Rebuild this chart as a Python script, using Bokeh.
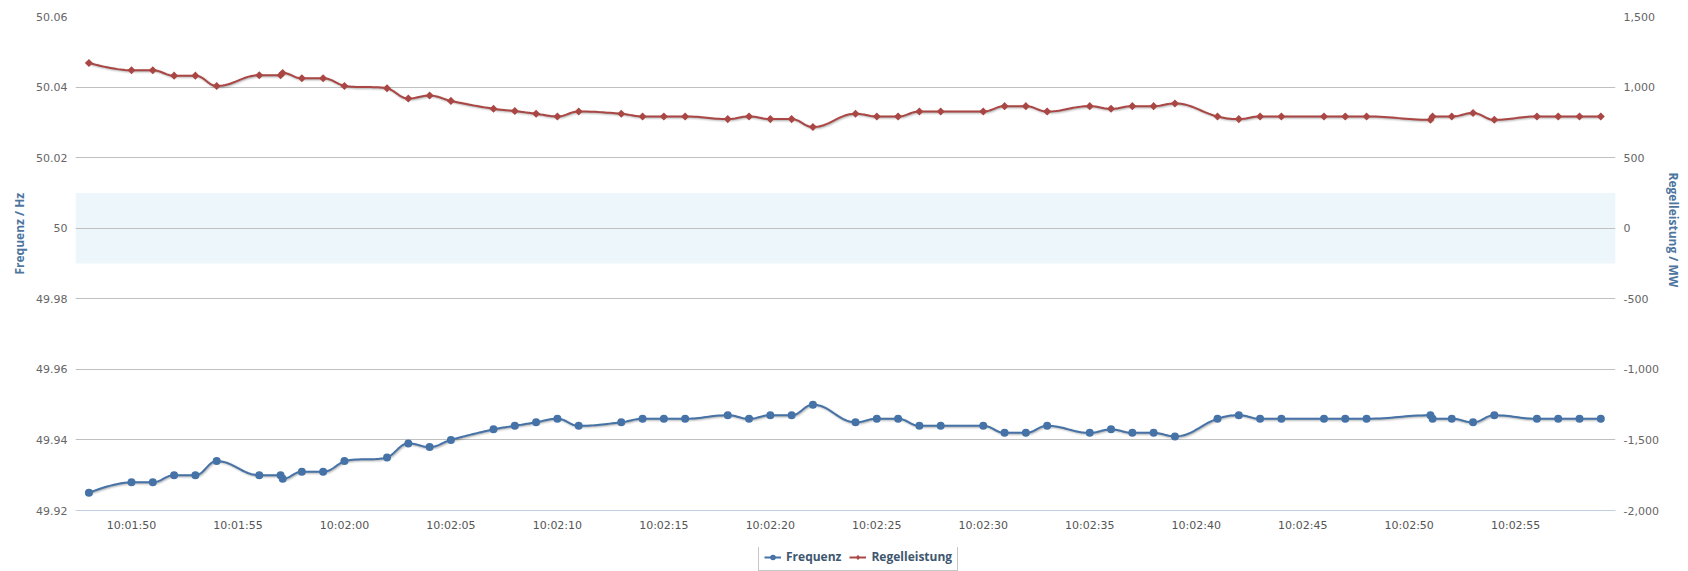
import numpy as np
import pandas as pd
from bokeh.plotting import figure
from bokeh.layouts import column
from bokeh.models import (Range1d, LinearAxis, FixedTicker, NumeralTickFormatter,
                          CustomJSTickFormatter, DatetimeTickFormatter, BoxAnnotation,
                          Legend, LegendItem, Title)
from bokeh.embed import file_html
from bokeh.resources import INLINE

# ---------------- data ----------------
day = "2014-03-01"
times = ["10:01:48", "10:01:50", "10:01:51", "10:01:52", "10:01:53", "10:01:54",
         "10:01:56", "10:01:57", "10:01:57.1", "10:01:58", "10:01:59", "10:02:00",
         "10:02:02", "10:02:03", "10:02:04", "10:02:05",
         "10:02:07", "10:02:08", "10:02:09", "10:02:10", "10:02:11",
         "10:02:13", "10:02:14", "10:02:15", "10:02:16",
         "10:02:18", "10:02:19", "10:02:20", "10:02:21", "10:02:22",
         "10:02:24", "10:02:25", "10:02:26", "10:02:27", "10:02:28",
         "10:02:30", "10:02:31", "10:02:32", "10:02:33",
         "10:02:35", "10:02:36", "10:02:37", "10:02:38", "10:02:39",
         "10:02:41", "10:02:42", "10:02:43", "10:02:44",
         "10:02:46", "10:02:47", "10:02:48",
         "10:02:51", "10:02:51.1", "10:02:52", "10:02:53", "10:02:54",
         "10:02:56", "10:02:57", "10:02:58", "10:02:59"]

frequenz = [49.925, 49.928, 49.928, 49.930, 49.930, 49.934,
            49.930, 49.930, 49.929, 49.931, 49.931, 49.934,
            49.935, 49.939, 49.938, 49.940,
            49.943, 49.944, 49.945, 49.946, 49.944,
            49.945, 49.946, 49.946, 49.946,
            49.947, 49.946, 49.947, 49.947, 49.950,
            49.945, 49.946, 49.946, 49.944, 49.944,
            49.944, 49.942, 49.942, 49.944,
            49.942, 49.943, 49.942, 49.942, 49.941,
            49.946, 49.947, 49.946, 49.946,
            49.946, 49.946, 49.946,
            49.947, 49.946, 49.946, 49.945, 49.947,
            49.946, 49.946, 49.946, 49.946]

regelleistung = [1171, 1119, 1119, 1081, 1081, 1008,
                 1084, 1084, 1100, 1062, 1062, 1008,
                 992, 919, 940, 902,
                 846, 830, 811, 792, 827,
                 811, 792, 792, 792,
                 773, 792, 773, 773, 717,
                 811, 792, 792, 827, 827,
                 827, 865, 865, 827,
                 865, 846, 865, 865, 884,
                 792, 773, 792, 792,
                 792, 792, 792,
                 768, 792, 792, 816, 768,
                 792, 792, 792, 792]

x_tick_labels = ["10:01:50", "10:01:55", "10:02:00", "10:02:05", "10:02:10",
                 "10:02:15", "10:02:20", "10:02:25", "10:02:30", "10:02:35",
                 "10:02:40", "10:02:45", "10:02:50", "10:02:55"]
freq_ticks = [49.92, 49.94, 49.96, 49.98, 50.00, 50.02, 50.04, 50.06]
mw_ticks = [-2000, -1500, -1000, -500, 0, 500, 1000, 1500]
freq_band = [49.99, 50.01]
x_window = ["10:01:47.37", "10:02:59.69"]

series_names = ["Frequenz", "Regelleistung"]
series_colors = ["#4572A7", "#AA4643"]
axis_titles = ["Frequenz / Hz", "Regelleistung / MW"]


def to_ms(t):
    return pd.Timestamp(day + " " + t).value / 1e6


def hc_spline(xv, yv, smoothing=1.5, steps=16):
    """Highcharts-style spline through the data points (cubic Bezier segments)."""
    xv = np.asarray(xv, float)
    yv = np.asarray(yv, float)
    n = len(xv)
    lcx, lcy, rcx, rcy = xv.copy(), yv.copy(), xv.copy(), yv.copy()
    d = smoothing + 1
    for i in range(1, n - 1):
        px, py = xv[i], yv[i]
        lx, ly = xv[i - 1], yv[i - 1]
        nx, ny = xv[i + 1], yv[i + 1]
        a = (smoothing * px + lx) / d
        b = (smoothing * py + ly) / d
        c = (smoothing * px + nx) / d
        e = (smoothing * py + ny) / d
        corr = ((e - b) * (c - px)) / (c - a) + py - e
        b += corr
        e += corr
        if b > ly and b > py:
            b = max(ly, py); e = 2 * py - b
        elif b < ly and b < py:
            b = min(ly, py); e = 2 * py - b
        if e > ny and e > py:
            e = max(ny, py); b = 2 * py - e
        elif e < ny and e < py:
            e = min(ny, py); b = 2 * py - e
        lcx[i], lcy[i], rcx[i], rcy[i] = a, b, c, e
    t = np.linspace(0, 1, steps + 1)[1:]
    mt = 1 - t
    ox, oy = [xv[0]], [yv[0]]
    for i in range(1, n):
        bx = mt**3 * xv[i-1] + 3 * mt**2 * t * rcx[i-1] + 3 * mt * t**2 * lcx[i] + t**3 * xv[i]
        by = mt**3 * yv[i-1] + 3 * mt**2 * t * rcy[i-1] + 3 * mt * t**2 * lcy[i] + t**3 * yv[i]
        ox.extend(bx); oy.extend(by)
    return np.array(ox), np.array(oy)


xs = np.array([to_ms(t) for t in times])
x0, x1 = to_ms(x_window[0]), to_ms(x_window[1])

W, H, HL = 1688, 547, 24
ML, MR, MT, MB = 75, 73, 16, 37
FW, FH = W - ML - MR, H - MT - MB

p = figure(width=W, height=H, x_axis_type="datetime",
           x_range=Range1d(x0, x1), y_range=Range1d(freq_ticks[0], freq_ticks[-1]),
           output_backend="svg", toolbar_location=None,
           min_border_left=ML, min_border_right=MR, min_border_top=MT, min_border_bottom=MB)
p.extra_y_ranges = {"mw": Range1d(mw_ticks[0], mw_ticks[-1])}
p.outline_line_color = None
p.background_fill_color = "white"
p.border_fill_color = "white"

# plot band
p.add_layout(BoxAnnotation(bottom=freq_band[0], top=freq_band[1], fill_color="#44AAD5",
                           fill_alpha=0.1, line_color=None, level="image"))

# grid
p.xgrid.visible = False
p.ygrid.ticker = FixedTicker(ticks=freq_ticks)
p.ygrid.grid_line_color = "#C0C0C0"
p.ygrid.grid_line_width = 1

TICK_FONT = "DejaVu Sans"
BOLD_FONT = "Open Sans"

# x axis
xa = p.xaxis[0]
xa.ticker = FixedTicker(ticks=[to_ms(t) for t in x_tick_labels])
fmt = "%H:%M:%S"
xa.formatter = DatetimeTickFormatter(milliseconds=fmt, seconds=fmt, minsec=fmt, minutes=fmt,
                                     hourmin=fmt, hours=fmt, days=fmt)
xa.axis_line_color = "#C0D0E0"
xa.major_tick_line_color = None
xa.minor_tick_line_color = None
xa.major_tick_out = 0
xa.major_tick_in = 0
xa.minor_tick_out = 0
xa.major_label_standoff = 8
xa.major_label_text_font = TICK_FONT
xa.major_label_text_font_size = "11px"
xa.major_label_text_color = "#555555"

# left axis
ya = p.yaxis[0]
ya.ticker = FixedTicker(ticks=freq_ticks)
ya.formatter = CustomJSTickFormatter(code="return String(parseFloat(tick.toFixed(2)));")
ya.axis_line_color = None
ya.major_tick_line_color = None
ya.minor_tick_line_color = None
ya.major_tick_out = 0
ya.major_tick_in = 0
ya.minor_tick_out = 0
ya.major_label_standoff = 8
ya.major_label_text_font = TICK_FONT
ya.major_label_text_font_size = "11px"
ya.major_label_text_color = "#666666"

# right axis
ra = LinearAxis(y_range_name="mw", ticker=FixedTicker(ticks=mw_ticks),
                formatter=NumeralTickFormatter(format="0,0"))
ra.axis_line_color = None
ra.major_tick_line_color = None
ra.minor_tick_line_color = None
ra.major_tick_out = 0
ra.major_tick_in = 0
ra.minor_tick_out = 0
ra.major_label_standoff = 8
ra.major_label_text_font = TICK_FONT
ra.major_label_text_font_size = "11px"
ra.major_label_text_color = "#666666"
p.add_layout(ra, "right")

# axis titles (side titles, placed a little above the middle like the original)
for txt, side, off, so in [(axis_titles[0], "left", 236, 12), (axis_titles[1], "right", 156, 7)]:
    p.add_layout(Title(text=txt, align="left", offset=off, standoff=so,
                       text_font=BOLD_FONT, text_font_style="bold", text_font_size="12px",
                       text_color="#4d759e"), side)

# series
secs = (xs - xs[0]) / 1000.0
px_x = (x1 - x0) / FW  # ms per pixel
for name, color, vals, rng, lo, hi in [
        (series_names[0], series_colors[0], frequenz, "default", freq_ticks[0], freq_ticks[-1]),
        (series_names[1], series_colors[1], regelleistung, "mw", mw_ticks[0], mw_ticks[-1])]:
    sx, sy = hc_spline(secs, vals)
    sx = xs[0] + sx * 1000.0
    px_y = (hi - lo) / FH
    # soft shadow
    for w, a in [(5, 0.05), (3, 0.10), (1, 0.15)]:
        p.line(sx + px_x, sy - px_y, line_color="black", line_alpha=a, line_width=w,
               y_range_name=rng, line_join="round")
    p.line(sx, sy, line_color=color, line_width=2, y_range_name=rng,
           line_join="round", line_cap="round")
    if name == "Frequenz":
        p.scatter(xs, vals, marker="circle", size=8, fill_color=color,
                  line_color=None, y_range_name=rng)
    else:
        p.scatter(xs, vals, marker="square", size=5.7, angle=np.pi / 4,
                  fill_color=color, line_color=None, y_range_name=rng)

# ---------------- legend strip below the chart ----------------
lg = figure(width=W, height=HL, output_backend="svg", toolbar_location=None,
            x_range=Range1d(0, 1), y_range=Range1d(0, 1),
            x_axis_location=None, y_axis_location=None, min_border=0)
lg.outline_line_color = None
lg.grid.visible = False
lg.background_fill_color = "white"
lg.border_fill_color = "white"
items = []
for name, color, mk in zip(series_names, series_colors, ["circle", "diamond"]):
    # swatch renderers kept outside the strip's visible range; only the legend shows them
    r1 = lg.line([2, 3], [2, 3], line_color=color, line_width=2)
    r2 = lg.scatter([2], [2], marker=mk, size=8 if mk == "circle" else 10,
                    fill_color=color, line_color=None)
    items.append(LegendItem(label=name, renderers=[r1, r2]))

legend = Legend(items=items, orientation="horizontal", location=(683, 0),
                padding=5, spacing=8, margin=0, label_standoff=5,
                glyph_width=17, glyph_height=14, label_height=14,
                label_text_font=BOLD_FONT, label_text_font_style="bold",
                label_text_font_size="12px", label_text_color="#3E576F",
                border_line_color="#909090", border_line_width=1,
                background_fill_color="white", background_fill_alpha=1.0)
lg.add_layout(legend)

layout = column(p, lg, spacing=0)
open("out.html", "w").write(file_html(layout, INLINE))
